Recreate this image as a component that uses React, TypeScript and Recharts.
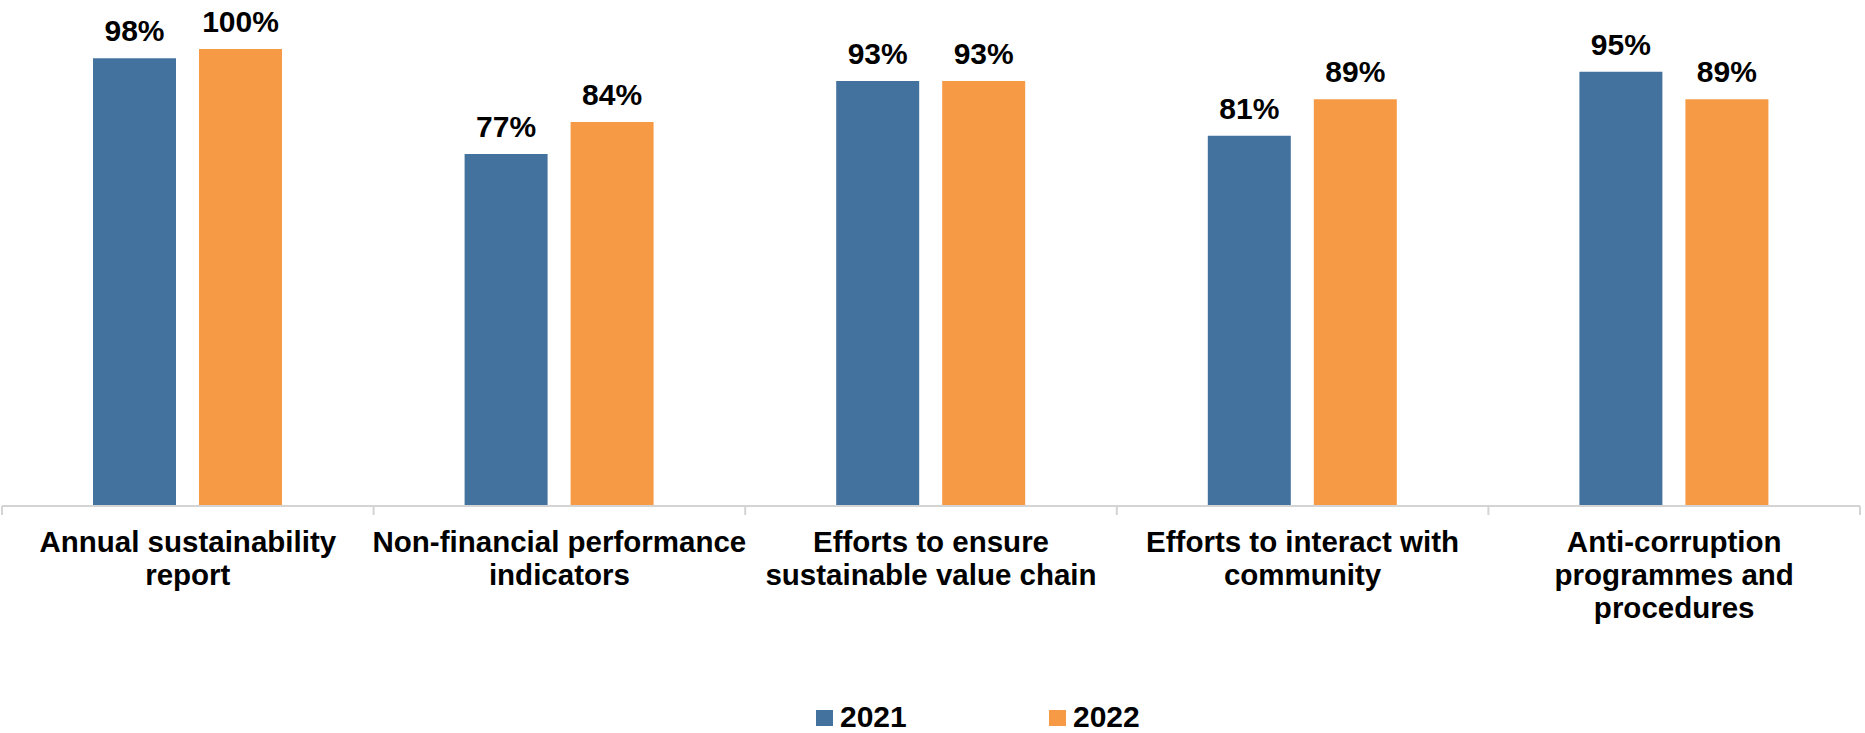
import { BarChart, Bar, XAxis, YAxis, LabelList } from "recharts";

const CATEGORIES = [
  "Annual sustainability\nreport",
  "Non-financial performance\nindicators",
  "Efforts to ensure\nsustainable value chain",
  "Efforts to interact with\ncommunity",
  "Anti-corruption\nprogrammes and\nprocedures",
];
const SERIES = ["2021", "2022"];
const VALUES_2021 = [98, 77, 93, 81, 95];
const VALUES_2022 = [100, 84, 93, 89, 89];

const COLORS = ["#44729F", "#F79A45"];
const FONT = "'Liberation Sans', Arial, sans-serif";

const WIDTH = 1865;
const HEIGHT = 733;
const MARGIN = { top: 49, right: 5, left: 2, bottom: 97 };
const AXIS_H = 130;
const BAND = (WIDTH - MARGIN.left - MARGIN.right) / CATEGORIES.length;

const data = CATEGORIES.map((c, i) => ({
  name: c,
  "2021": VALUES_2021[i],
  "2022": VALUES_2022[i],
}));

function CategoryTick(props: any) {
  const { x, y, payload, index } = props;
  const lines = String(payload.value).split("\n");
  const last = index === CATEGORIES.length - 1;
  return (
    <g>
      <line x1={x - BAND / 2} x2={x - BAND / 2} y1={y} y2={y + 9} stroke="#D4D4D4" strokeWidth={2} />
      {last && (
        <line x1={x + BAND / 2} x2={x + BAND / 2} y1={y} y2={y + 9} stroke="#D4D4D4" strokeWidth={2} />
      )}
      <text
        x={x}
        y={y + 46}
        textAnchor="middle"
        fontFamily={FONT}
        fontWeight="bold"
        fontSize={29.5}
        fill="#000"
      >
        {lines.map((l, i) => (
          <tspan key={i} x={x} dy={i === 0 ? 0 : 33}>
            {l}
          </tspan>
        ))}
      </text>
    </g>
  );
}

function ValueLabel(props: any) {
  const { x, y, width, value } = props;
  return (
    <text
      x={x + width / 2}
      y={y - 17}
      textAnchor="middle"
      fontFamily={FONT}
      fontWeight="bold"
      fontSize={30}
      fill="#000"
    >
      {value}%
    </text>
  );
}

export default function App() {
  return (
    <div style={{ position: "absolute", left: 0, top: 0, width: WIDTH, height: HEIGHT, background: "#fff" }}>
      <BarChart width={WIDTH} height={HEIGHT} data={data} margin={MARGIN} barSize={83} barGap={23}>
        <XAxis
          dataKey="name"
          height={AXIS_H}
          interval={0}
          tickSize={0}
          tickMargin={0}
          tickLine={false}
          axisLine={{ stroke: "#D4D4D4", strokeWidth: 2 }}
          tick={<CategoryTick />}
        />
        <YAxis hide domain={[0, 100]} />
        {SERIES.map((s, i) => (
          <Bar key={s} dataKey={s} fill={COLORS[i]} isAnimationActive={false}>
            <LabelList dataKey={s} content={<ValueLabel />} />
          </Bar>
        ))}
      </BarChart>
      <div
        style={{
          position: "absolute",
          left: 816,
          top: 700,
          display: "flex",
          fontFamily: FONT,
          fontWeight: "bold",
          fontSize: 30,
          lineHeight: "33px",
          color: "#000",
        }}
      >
        {SERIES.map((s, i) => (
          <div key={s} style={{ display: "flex", alignItems: "center", width: 233 }}>
            <span style={{ display: "inline-block", width: 17, height: 16, background: COLORS[i], marginRight: 7, marginTop: 3 }} />
            <span>{s}</span>
          </div>
        ))}
      </div>
    </div>
  );
}
